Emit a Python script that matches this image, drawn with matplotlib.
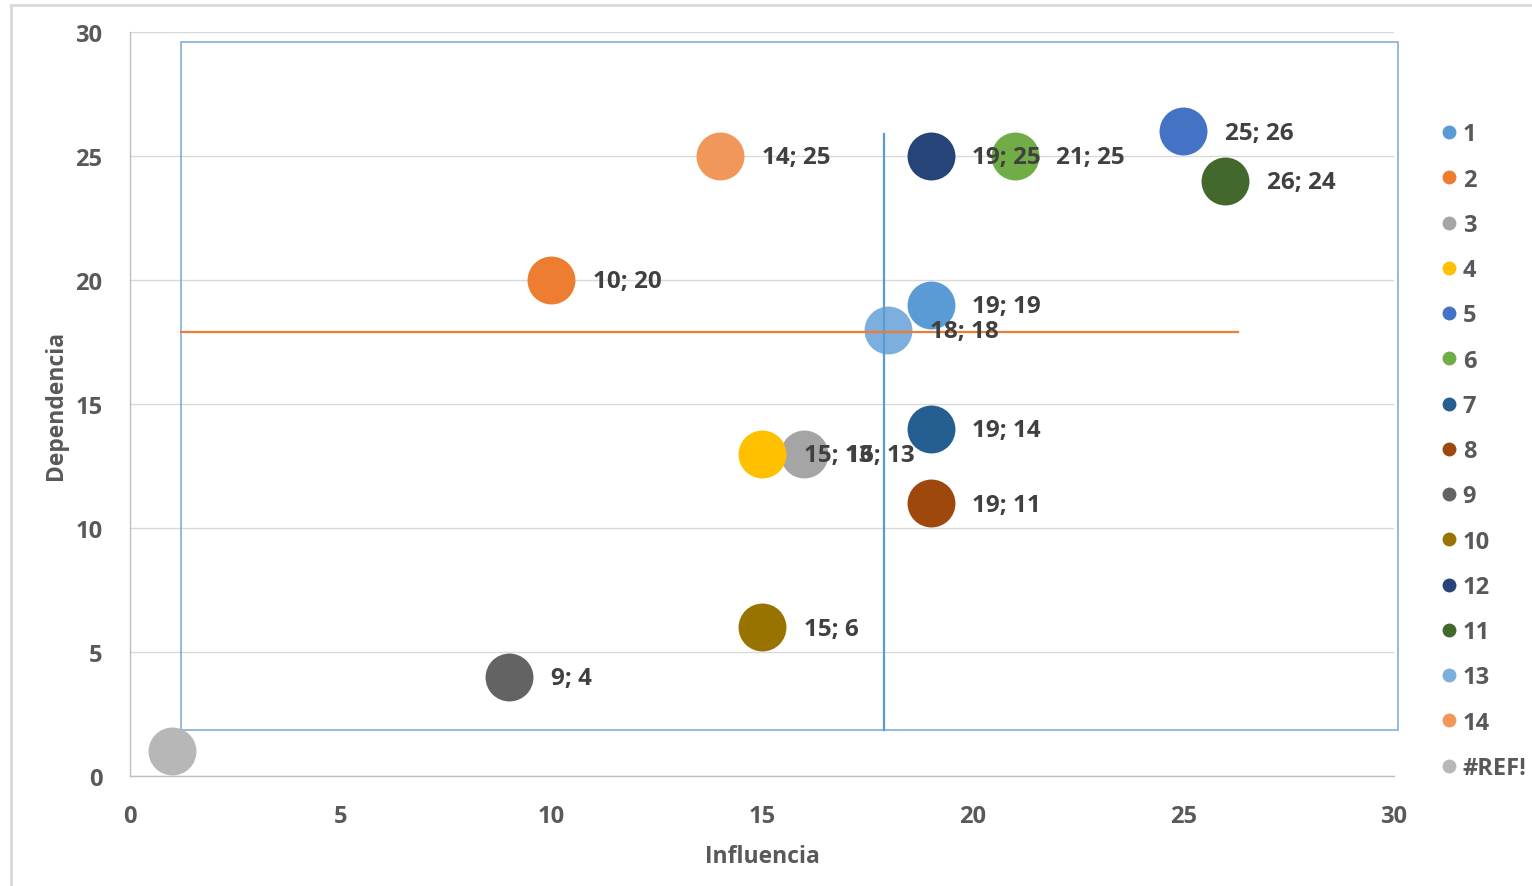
import matplotlib
matplotlib.use("Agg")
import matplotlib.pyplot as plt
from matplotlib.lines import Line2D
from matplotlib.patches import Rectangle

plt.rcParams['font.family'] = ['Open Sans', 'DejaVu Sans']

# ---- data ----
series_names = ["1", "2", "3", "4", "5", "6", "7", "8", "9", "10", "12", "11", "13", "14", "#REF!"]
influencia = [19, 10, 16, 15, 25, 21, 19, 19, 9, 15, 19, 26, 18, 14, 1]
dependencia = [19, 20, 13, 13, 26, 25, 14, 11, 4, 6, 25, 24, 18, 25, 1]
colors = ["#5b9bd5", "#ed7d31", "#a5a5a5", "#ffc000", "#4472c4", "#70ad47",
          "#255e91", "#9e480e", "#636363", "#997300", "#264478", "#43682b",
          "#7cafdd", "#f1975a", "#b7b7b7"]
show_label = [True] * 14 + [False]

# reference lines / box (averages)
box_x = [1.2, 30.1]
box_y = [1.85, 29.6]
vline_x = 17.9
vline_y = [1.85, 25.9]
hline_y = 17.9
hline_x = [1.2, 26.3]

x_ticks = [0, 5, 10, 15, 20, 25, 30]
y_ticks = [0, 5, 10, 15, 20, 25, 30]

# ---- figure ----
W, H = 1532, 887
fig = plt.figure(figsize=(W / 100, H / 100), dpi=100)
ax = fig.add_axes([130 / W, 1 - 777 / H, (1394 - 130) / W, (777 - 33) / H])

# outer chart frame (light gray)
fig.add_artist(Line2D([11 / W, 11 / W], [0, 1 - 6 / H], color="#d9d9d9", lw=2, transform=fig.transFigure))
fig.add_artist(Line2D([11 / W, 1], [1 - 6 / H, 1 - 6 / H], color="#d9d9d9", lw=2, transform=fig.transFigure))

ax.set_xlim(0, 30)
ax.set_ylim(0, 30)
ax.set_xticks(x_ticks)
ax.set_yticks(y_ticks)
ax.grid(axis="y", color="#d9d9d9", lw=1)
ax.set_axisbelow(True)
for s in ["top", "right"]:
    ax.spines[s].set_visible(False)
for s in ["left", "bottom"]:
    ax.spines[s].set_color("#bfbfbf")
    ax.spines[s].set_linewidth(1)
ax.tick_params(length=0, labelsize=17, labelcolor="#595959")
ax.tick_params(axis="x", pad=20)
ax.tick_params(axis="y", pad=20)
for lab in ax.get_xticklabels() + ax.get_yticklabels():
    lab.set_fontweight("bold")

ax.set_xlabel("Influencia", fontsize=16.5, fontweight="bold", color="#595959", labelpad=12)
ax.set_ylabel("Dependencia", fontsize=16.5, fontweight="bold", color="#595959", labelpad=5)

# box
ax.add_patch(Rectangle((box_x[0], box_y[0]), box_x[1] - box_x[0], box_y[1] - box_y[0],
                       fill=False, edgecolor="#7aa6d6", lw=1.1, clip_on=False, zorder=1))

handles = []
for i, (name, xv, yv, c, sl) in enumerate(zip(series_names, influencia, dependencia, colors, show_label)):
    z = 2.5 if name == "13" else 3
    ax.scatter([xv], [yv], s=1190, color=c, zorder=z, clip_on=False, linewidths=0)
    if sl:
        ax.annotate(f"{xv}; {yv}", (xv, yv), xytext=(30, -1), textcoords="offset points",
                    ha="left", va="center", fontsize=17.5, fontweight="bold", color="#404040", zorder=6)
    handles.append(Line2D([], [], marker="o", linestyle="none", markersize=10,
                          markerfacecolor=c, markeredgewidth=0, label=name))

ax.plot([vline_x, vline_x], vline_y, color="#5b9bd5", lw=1.6, zorder=4, clip_on=False)
ax.plot(hline_x, [hline_y, hline_y], color="#ed7d31", lw=1.6, zorder=4, clip_on=False)

leg = fig.legend(handles=handles, loc="upper left", bbox_to_anchor=(1432 / W, 1 - 114 / H),
                 frameon=False, prop={"size": 17, "weight": "bold"}, labelspacing=0.9,
                 handlelength=0.6, handletextpad=0.3, borderaxespad=0)
for t in leg.get_texts():
    t.set_color("#595959")

fig.savefig("out.png", dpi=100)
